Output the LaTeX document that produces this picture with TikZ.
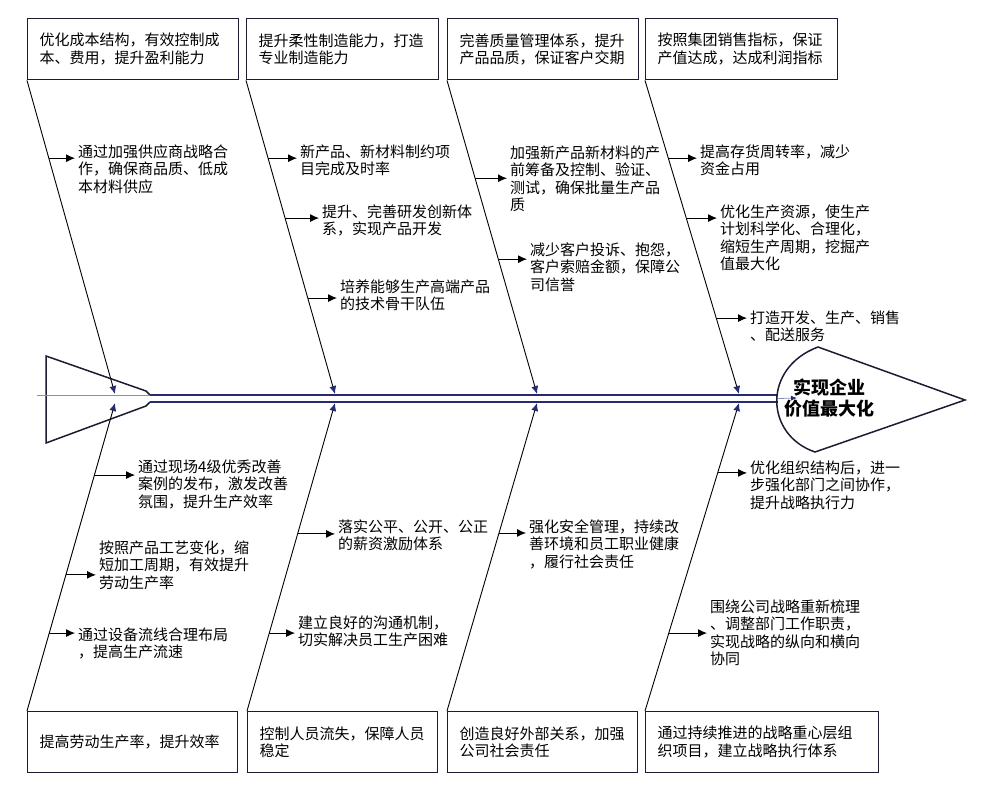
\documentclass[tikz,border=0pt]{standalone}
\usepackage{fontspec}
\setmainfont{Noto Sans CJK SC}
\usetikzlibrary{arrows.meta,calc}
\definecolor{fbInk}{HTML}{1C1C33}
\definecolor{fbNavy}{HTML}{262A6E}
\definecolor{fbGuide}{HTML}{8A8DB0}
\newcommand\fbfont{\fontsize{15}{17.5}\selectfont}
\tikzset{
  fb box/.style={draw=fbInk, line width=1.4pt, anchor=north west, minimum height=61pt, inner xsep=12pt, inner ysep=0pt, align=left, font=\fbfont, text width=#1},
  fb note/.style={anchor=north west, inner sep=0pt, inner xsep=3pt, align=left, font=\fbfont},
  fb bone/.style={draw=black, line width=0.9pt},
  fb hit/.style={-{Latex[length=8pt,width=7pt,color=fbNavy]}},
  fb twig/.style={draw=black, line width=0.9pt, -{Latex[length=9pt,width=8pt]}},
  fb spine/.style={draw=fbNavy, line width=1.8pt},
  fb guide/.style={draw=fbGuide, line width=0.8pt},
  fb outline/.style={draw=fbInk, line width=1.5pt},
  fb goal/.style={font=\fontsize{18}{21}\selectfont\bfseries, align=center, inner sep=0pt},
}

\begin{document}
\begin{tikzpicture}[x=1pt,y=-1pt]
\useasboundingbox(0,0)rectangle(988,787);
\node[fb box=187pt](c1)at(27,18){优化成本结构，有效控制成\\本、费用，提升盈利能力};
\node[fb box=168pt](c2)at(246,18){提升柔性制造能力，打造\\专业制造能力};
\node[fb box=167pt](c3)at(447,18){完善质量管理体系，提升\\产品品质，保证客户交期};
\node[fb box=168pt](c4)at(645,18){按照集团销售指标，保证\\产值达成，达成利润指标};
\node[fb box=186pt](d1)at(27,711){提高劳动生产率，提升效率};
\node[fb box=166pt](d2)at(247,711){控制人员流失，保障人员\\稳定};
\node[fb box=166pt](d3)at(447,711){创造良好外部关系，加强\\公司社会责任};
\node[fb box=209pt](d4)at(645,711){通过持续推进的战略重心层组\\织项目，建立战略执行体系};
\node[fb note](t11)at(75,144.5){通过加强供应商战略合\\作，确保商品质、低成\\本材料供应};
\node[fb note](t21)at(297,144.5){新产品、新材料制约项\\目完成及时率};
\node[fb note](t22)at(319,204.5){提升、完善研发创新体\\系，实现产品开发};
\node[fb note](t23)at(337,279.5){培养能够生产高端产品\\的技术骨干队伍};
\node[fb note](t31)at(507,145.5){加强新产品新材料的产\\前筹备及控制、验证、\\测试，确保批量生产品\\质};
\node[fb note](t32)at(527,242.5){减少客户投诉、抱怨，\\客户索赔金额，保障公\\司信誉};
\node[fb note](t41)at(697,144.5){提高存货周转率，减少\\资金占用};
\node[fb note](t42)at(717,204.5){优化生产资源，使生产\\计划科学化、合理化，\\缩短生产周期，挖掘产\\值最大化};
\node[fb note](t43)at(747,310.5){打造开发、生产、销售\\、配送服务};
\node[fb note](b11)at(135,459.5){通过现场4级优秀改善\\案例的发布，激发改善\\氛围，提升生产效率};
\node[fb note](b12)at(96,540.5){按照产品工艺变化，缩\\短加工周期，有效提升\\劳动生产率};
\node[fb note](b13)at(75,627.5){通过设备流线合理布局\\，提高生产流速};
\node[fb note](b21)at(335,519.5){落实公平、公开、公正\\的薪资激励体系};
\node[fb note](b22)at(295,615.5){建立良好的沟通机制，\\切实解决员工生产困难};
\node[fb note](b31)at(526,519.5){强化安全管理，持续改\\善环境和员工职业健康\\，履行社会责任};
\node[fb note](b41)at(747,460.5){优化组织结构后，进一\\步强化部门之间协作，\\提升战略执行力};
\node[fb note](b42)at(707,599.5){围绕公司战略重新梳理\\、调整部门工作职责，\\实现战略的纵向和横向\\协同};
\node[fb goal](goal)at(829,398){实现企业\\价值最大化};
\coordinate(neckU)at(150,395);\coordinate(neckL)at(150,402);
\coordinate(headU)at(778,395);\coordinate(headL)at(778,402);
\coordinate(tail)at(37,395);\coordinate(core)at(797,398);
\draw[fb outline](neckU)--(146,391)--(46,356)--(46,443)--(146,406)--(neckL);
\draw[fb guide](tail)--(neckU);
\draw[fb spine](neckU)--(headU);\draw[fb spine](neckL)--(headL);
\draw[fb guide,-{Latex[length=6pt,width=5pt,color=fbNavy]}]($(headU)!.5!(headL)$)--(core);
\draw[fb outline](818,347)--(965,400)--(815,452).. controls (765,435) and (762,368) ..cycle;
\foreach \i/\x in {1/115,2/335,3/537,4/739}{\coordinate(s\i)at(\x,394);\coordinate(u\i)at(\x,403);}
\foreach \i in {1,...,4}{\draw[fb bone,fb hit](c\i.south west)--(s\i);\draw[fb bone,fb hit](d\i.north west)--(u\i);}
\foreach \a/\b/\f/\n in {c1.south west/s1/.248/t11,c2.south west/s2/.248/t21,c2.south west/s2/.439/t22,c2.south west/s2/.694/t23,c3.south west/s3/.312/t31,c3.south west/s3/.570/t32,c4.south west/s4/.248/t41,c4.south west/s4/.439/t42,c4.south west/s4/.758/t43,u1/d1.north west/.234/b11,u1/d1.north west/.558/b12,u1/d1.north west/.747/b13,u2/d2.north west/.425/b21,u2/d2.north west/.747/b22,u3/d3.north west/.422/b31,u4/d4.north west/.227/b41,u4/d4.north west/.747/b42}{
  \coordinate(p)at($(\a)!\f!(\b)$);\draw[fb twig](p)--(p-|\n.west);}
\end{tikzpicture}
\end{document}
